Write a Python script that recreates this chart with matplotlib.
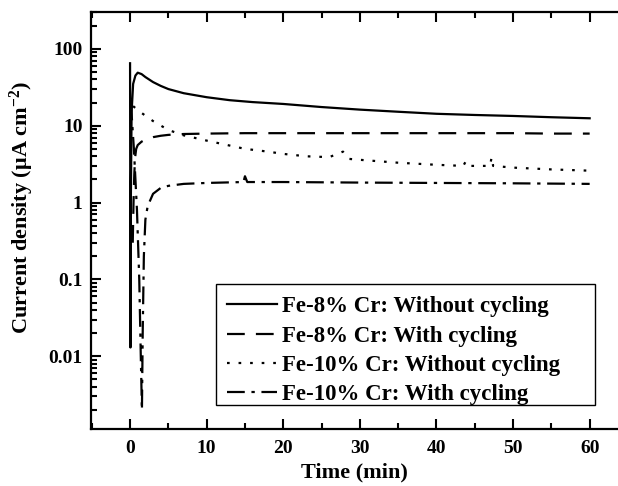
import matplotlib.pyplot as plt
from matplotlib.patches import Rectangle
from matplotlib.ticker import LogLocator, NullFormatter, FixedLocator, MultipleLocator

# Fe-8% Cr, without cycling (solid)
t_a = [0.0, 0.05, 0.1, 0.2, 0.4, 0.7, 1.0, 1.5, 2, 3, 4, 5, 7, 10, 13, 16, 20, 25,
       30, 35, 40, 45, 50, 55, 60]
i_a = [65, 0.013, 1.0, 15, 35, 45, 49, 47, 43, 37, 33, 30, 26.5, 23.5, 21.5, 20.3, 19.2, 17.5,
       16.2, 15.2, 14.3, 13.8, 13.4, 12.9, 12.5]

# Fe-8% Cr, with cycling (dashed)
t_b = [0.35, 0.45, 0.55, 0.65, 0.8, 1.0, 1.5, 2, 3, 4, 5, 7, 10, 15, 20, 25, 28,
       28.3, 28.6, 35, 40, 45, 50, 55, 60]
i_b = [0.3, 1.0, 2.3, 3.8, 5.0, 5.6, 6.2, 6.6, 7.1, 7.4, 7.6, 7.8, 7.9, 8.0, 8.0, 8.0, 8.0,
       8.8, 8.0, 8.0, 8.0, 8.0, 8.0, 7.9, 7.9]

# Fe-10% Cr, without cycling (dotted)
t_c = [0.4, 1, 2, 3, 5, 7, 10, 12, 15, 18, 20, 23, 26, 27.8, 28.2, 28.6, 30, 35, 40,
       43.5, 43.8, 44.1, 47, 47.2, 47.4, 50, 55, 60]
i_c = [18, 16, 13.5, 11.5, 8.8, 7.5, 6.4, 5.8, 5.0, 4.6, 4.3, 4.0, 3.9, 4.6, 4.0, 3.7, 3.6, 3.3, 3.1,
       3.0, 3.4, 3.0, 3.0, 3.9, 3.0, 2.85, 2.7, 2.6]

# Fe-10% Cr, with cycling (dash-dot)
t_d = [0.1, 0.5, 0.9, 1.2, 1.4, 1.55, 1.65, 1.8, 2.0, 2.3, 3, 4, 5, 7, 10, 14.8, 15, 15.3,
       20, 30, 40, 50, 60]
i_d = [20, 5, 0.8, 0.1, 0.01, 0.002, 0.02, 0.2, 0.6, 0.9, 1.3, 1.55, 1.65, 1.75, 1.8, 1.85, 2.2, 1.85,
       1.85, 1.82, 1.8, 1.78, 1.75]

labels = ["Fe-8% Cr: Without cycling", "Fe-8% Cr: With cycling",
          "Fe-10% Cr: Without cycling", "Fe-10% Cr: With cycling"]

plt.rcParams["font.family"] = ["Liberation Serif", "DejaVu Serif"]
plt.rcParams["font.weight"] = "bold"
plt.rcParams["mathtext.fontset"] = "custom"
plt.rcParams["mathtext.rm"] = "Liberation Serif:bold"
plt.rcParams["mathtext.it"] = "Liberation Serif:bold"
plt.rcParams["mathtext.bf"] = "Liberation Serif:bold"

fig = plt.figure(figsize=(6.18, 4.86), dpi=100)
ax = fig.add_axes([91 / 618, 1 - 429 / 486, 527 / 618, 417 / 486])

ax.plot(t_a, i_a, color="black", lw=1.6, ls="-", label=labels[0])
ax.plot(t_b, i_b, color="black", lw=1.6, ls=(0, (8, 5)), label=labels[1])
ax.plot(t_c, i_c, color="black", lw=1.6, ls=(0, (1.2, 4)), label=labels[2])
ax.plot(t_d, i_d, color="black", lw=1.6, ls=(0, (8, 3, 1.5, 3)), label=labels[3])

ax.set_yscale("log")
ax.set_xlim(-5.1, 63.7)
ax.set_ylim(0.00113, 302)

ax.xaxis.set_major_locator(MultipleLocator(10))
ax.xaxis.set_minor_locator(MultipleLocator(5))
ax.yaxis.set_major_locator(FixedLocator([0.01, 0.1, 1, 10, 100]))
ax.yaxis.set_minor_locator(LogLocator(base=10, subs=range(2, 10)))
ax.yaxis.set_minor_formatter(NullFormatter())
ax.set_yticklabels(["0.01", "0.1", "1", "10", "100"])

ax.tick_params(which="both", direction="in", top=True, right=False, width=1.5, labelsize=14)
ax.tick_params(which="major", length=7)
ax.tick_params(which="minor", length=4)
ax.tick_params(axis="x", pad=8)
ax.tick_params(axis="y", pad=6)
for s in ["left", "bottom", "top"]:
    ax.spines[s].set_linewidth(1.6)
ax.spines["right"].set_visible(False)

ax.set_xlabel("Time (min)", fontsize=16, fontweight="bold", labelpad=4)
ax.set_ylabel("Current density (μA cm$^{-2}$)", fontsize=16, fontweight="bold")
ax.yaxis.set_label_coords(-0.105, 0.53)

# legend box is wider on the right than the text needs
ax.add_patch(Rectangle((0.237, 0.058), 0.719, 0.29, transform=ax.transAxes,
                       fill=False, edgecolor="black", lw=1.0, zorder=5))
ax.legend(loc="upper left", bbox_to_anchor=(0.258, 0.318), fontsize=16.5, frameon=False,
          handlelength=2.2, handletextpad=0.22, labelspacing=0.36,
          borderpad=0, borderaxespad=0)

plt.savefig("out.png", dpi=100)
plt.close()
